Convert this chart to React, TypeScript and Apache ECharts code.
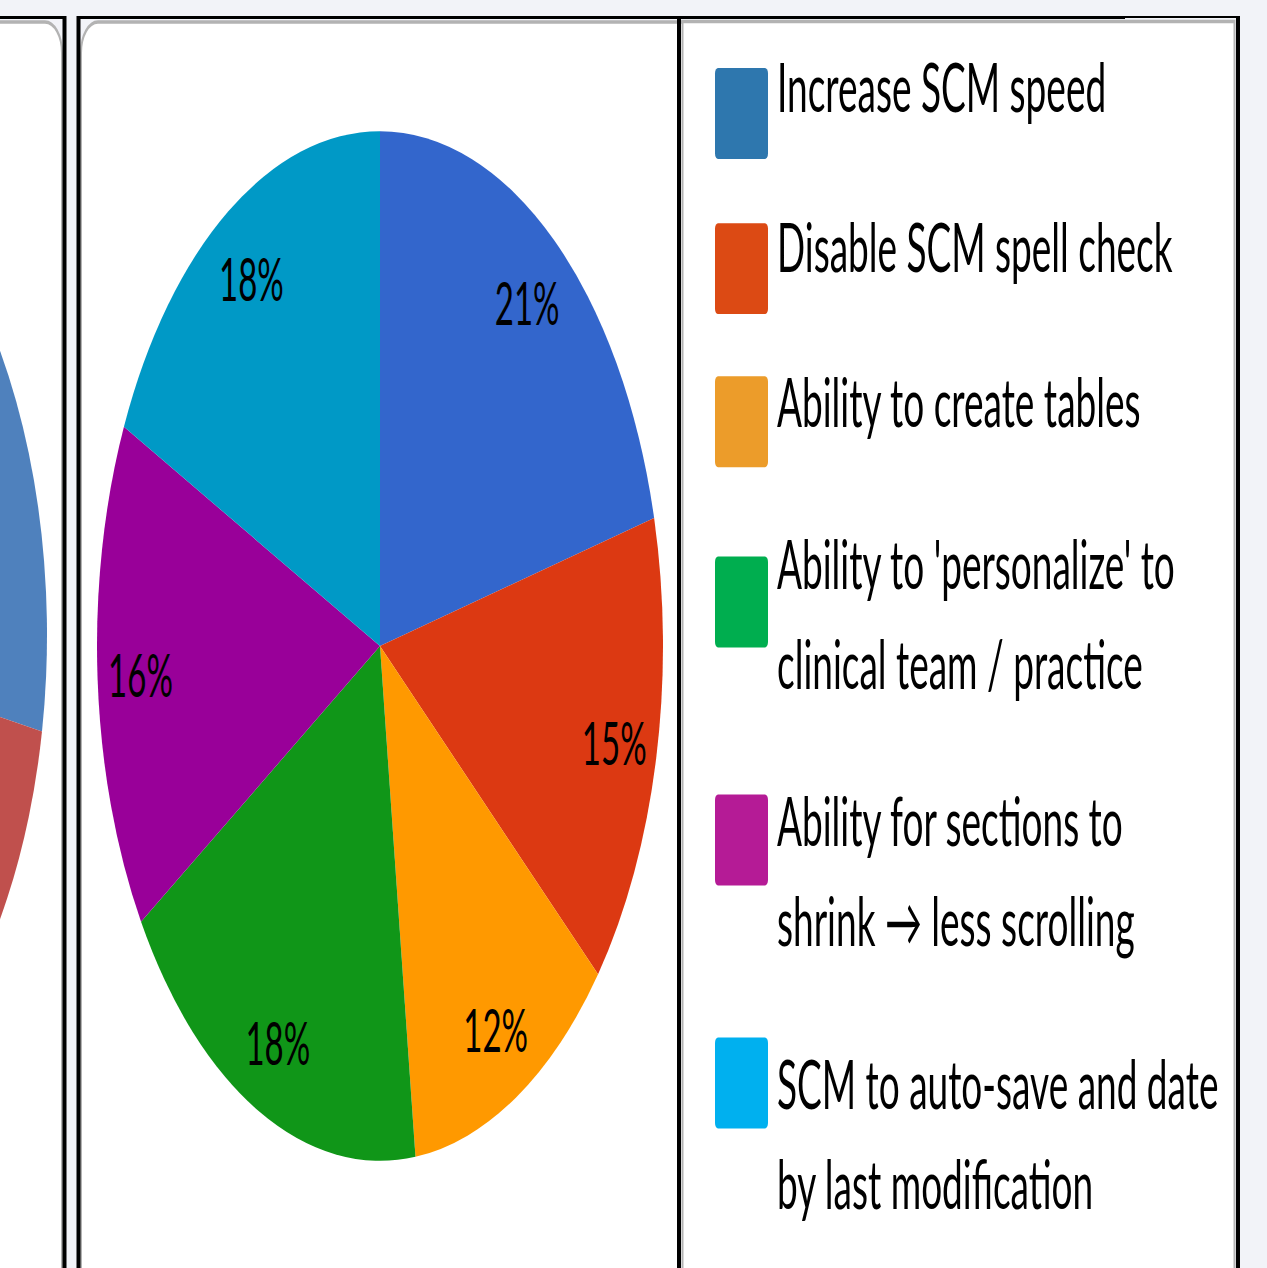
import React, { useEffect, useRef } from "react";
import * as echarts from "echarts";

// ---- data ----
const categories = [
  "Increase SCM speed",
  "Disable SCM spell check",
  "Ability to create tables",
  "Ability to 'personalize' to\nclinical team / practice",
  "Ability for sections to\nshrink → less scrolling",
  "SCM to auto-save and date\nby last modification",
];
const percents = [21, 15, 12, 18, 16, 18];
const sliceColors = ["#3366CC", "#DC3912", "#FF9900", "#109618", "#990099", "#0099C6"];
const legendColors = ["#2E77AE", "#DC4A14", "#EC9C2A", "#00AE4F", "#B51B96", "#00B0EF"];

// neighbouring (cropped) pie at the left edge
const sideNames = ["Left chart slice 1", "Left chart slice 2", "Left chart slice 3", "Left chart slice 4", "Left chart slice 5"];
const sideValues = [28, 22, 18, 17, 15];
const sideColors = ["#4F81BD", "#C0504D", "#9BBB59", "#8064A2", "#4BACC6"];

// ---- layout ----
const W = 1267;
const H = 697;
const S = 1268 / H; // vertical stretch of the whole picture
const Y = (v: number) => v / S;

const iconCenters = [114, 269, 423, 601, 839, 1082];
// text offset relative to icon centre (unstretched px, + = down)
const textShift = [-15, -12.3, -11.3, 6, 16.5, 27.5];
const topNudge = [-6.3, -3.5, -3, 0, 0, 0];
const LH = 55;

const iconPath =
  "path://M3,0H50A3,3 0 0 1 53,3V47A3,3 0 0 1 50,50H3A3,3 0 0 1 0,47V3A3,3 0 0 1 3,0Z";

export default function App() {
  const ref = useRef<HTMLDivElement>(null);
  useEffect(() => {
    document.body.style.margin = "0";
    document.body.style.background = "#F2F3F8";
    const chart = echarts.init(ref.current!, null, { renderer: "svg" });

    const black = (x: number, y: number, w: number, h: number) => ({
      type: "rect",
      z: 10,
      silent: true,
      shape: { x, y, width: w, height: h },
      style: { fill: "#000" },
    });
    const grayStroke = "#B3B3B3";

    const graphic = [
      {
        type: "rect",
        z: 0,
        silent: true,
        shape: { x: -40, y: Y(22), width: 102, height: 800, r: 17 },
        style: { fill: "#fff", stroke: grayStroke, lineWidth: 2 },
      },
      {
        type: "rect",
        z: 0,
        silent: true,
        shape: { x: 81, y: Y(22), width: 800, height: 800, r: 17 },
        style: { fill: "#fff", stroke: grayStroke, lineWidth: 2 },
      },
      {
        type: "rect",
        z: 1,
        silent: true,
        shape: { x: 682.5, y: Y(21.5), width: 552, height: 800 },
        style: { fill: "#fff", stroke: grayStroke, lineWidth: 2 },
      },
      black(0, Y(16), 66, Y(3)),
      black(77, Y(16), 1048, Y(3)),
      black(1120, Y(16), 120, Y(2)),
      black(62.5, Y(16), 4, 800),
      black(76.5, Y(16), 4, 800),
      black(677, Y(16), 4, 800),
      black(1236, Y(16), 4, 800),
    ];

    const legend = categories.map((name, i) => {
      const lines = name.split("\n");
      const d = textShift[i];
      const spacer = Math.abs(d) * 2;
      const body = lines.map((l) => `{t|${l}}`).join("\n");
      const formatted = d > 0 ? `{sp| }\n${body}` : `${body}\n{sp| }`;
      const boxH = Math.max(50, lines.length * LH);
      return {
        orient: "vertical",
        left: 715,
        top: Y(iconCenters[i]) - boxH / 2 + topNudge[i],
        padding: 0,
        itemWidth: 53,
        itemHeight: 50,
        icon: iconPath,
        selectedMode: false,
        formatter: () => formatted,
        data: [{ name, itemStyle: { color: legendColors[i], borderWidth: 0 } }],
        textStyle: {
          fontFamily: "Lato",
          fontSize: 37,
          color: "#000",
          rich: {
            t: { fontFamily: "Lato", fontSize: 37, color: "#000", lineHeight: LH, padding: [0, 0, 0, 4] },
            sp: { fontSize: 1, lineHeight: spacer },
          },
        },
      };
    });

    const mainData = categories.map((n, i) => ({
      name: n,
      value: percents[i],
      itemStyle: { color: sliceColors[i] },
    }));

    chart.setOption({
      animation: false,
      backgroundColor: "#F2F3F8",
      graphic,
      legend,
      series: [
        {
          type: "pie",
          z: 2,
          silent: true,
          center: [-236, Y(635)],
          radius: 283,
          startAngle: 90,
          label: { show: false },
          labelLine: { show: false },
          itemStyle: { borderWidth: 0 },
          data: sideNames.map((n, i) => ({
            name: n,
            value: sideValues[i],
            itemStyle: { color: sideColors[i] },
          })),
        },
        {
          type: "pie",
          z: 2,
          silent: true,
          center: [380, Y(646)],
          radius: 283,
          startAngle: 90,
          label: { show: false },
          labelLine: { show: false },
          itemStyle: { borderWidth: 0 },
          emphasis: { disabled: true },
          data: mainData,
        },
        {
          type: "pie",
          z: 3,
          silent: true,
          center: [380, Y(646)],
          radius: [191, 283],
          startAngle: 90,
          itemStyle: { color: "rgba(0,0,0,0)", borderWidth: 0 },
          emphasis: { disabled: true },
          labelLine: { show: false },
          label: {
            show: true,
            position: "inside",
            formatter: "{c}%",
            fontFamily: "Lato",
            fontSize: 33,
            color: "#000",
          },
          data: categories.map((n, i) => ({ name: n, value: percents[i] })),
        },
      ],
    });
    return () => chart.dispose();
  }, []);

  return (
    <div style={{ width: W, height: 1268, overflow: "hidden", background: "#F2F3F8" }}>
      <div
        ref={ref}
        style={{ width: W, height: H, transform: `scaleY(${S})`, transformOrigin: "0 0" }}
      />
    </div>
  );
}
